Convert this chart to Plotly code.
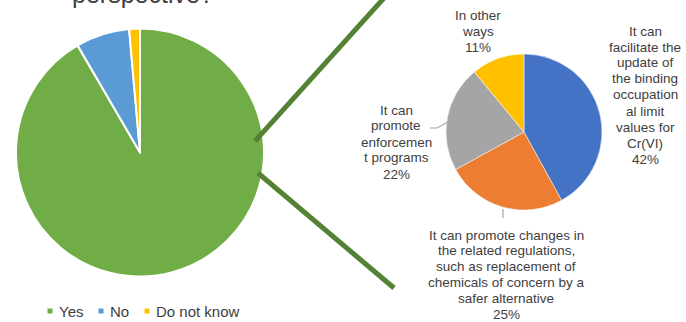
import plotly.graph_objects as go

W, H = 686, 322

# Main question: share of answers
main_labels = ["Yes", "No", "Do not know"]
main_values = [91.6, 7.0, 1.4]
main_colors = ["#70AD47", "#5B9BD5", "#FFC000"]

# Breakdown of the "Yes" answers
sub_labels = [
    ["It can", "facilitate the", "update of", "the binding", "occupation",
     "al limit", "values for", "Cr(VI)"],
    ["It can promote changes in", "the related regulations,",
     "such as replacement of", "chemicals of concern by a", "safer alternative"],
    ["It can", "promote", "enforcemen", "t programs"],
    ["In other", "ways"],
]
sub_values = [42, 25, 22, 11]
sub_colors = ["#4472C4", "#ED7D31", "#A5A5A5", "#FFC000"]

TEXT = "#404040"
FONT = "Liberation Sans, Arial"


def px(x):
    return x / W


def py(y):
    return 1 - y / H


fig = go.Figure()

fig.add_trace(go.Pie(
    labels=main_labels, values=main_values, sort=False, direction="clockwise",
    rotation=0, marker=dict(colors=main_colors, line=dict(color="white", width=2)),
    textinfo="none", hoverinfo="label+percent", showlegend=False,
    domain=dict(x=[px(16), px(264)], y=[py(277), py(28)]),
))

fig.add_trace(go.Pie(
    labels=[" ".join(l) for l in sub_labels], values=sub_values, sort=False,
    direction="clockwise", rotation=0,
    marker=dict(colors=sub_colors, line=dict(color="white", width=0.5)),
    textinfo="none", hoverinfo="percent", showlegend=False,
    domain=dict(x=[px(446), px(602)], y=[py(210), py(54)]),
))

annotations = []
shapes = []

# Heading above the first pie, running off the top edge
annotations.append(dict(
    text="perspective?", x=px(70), y=py(-6.5), xref="paper", yref="paper",
    xanchor="left", yanchor="middle", showarrow=False,
    font=dict(family=FONT, size=25, color=TEXT),
))

# Slice labels of the breakdown pie: (centre x, first line y, line gap) per label
label_pos = [(645, 31, 16.0), (506, 235, 15.8), (396, 110, 16.0), (478, 15, 16.0)]
for lines, val, (lx, ly, gap) in zip(sub_labels, sub_values, label_pos):
    for i, line in enumerate(lines + [f"{val}%"]):
        annotations.append(dict(
            text=line, x=px(lx), y=py(ly + i * gap), xref="paper", yref="paper",
            xanchor="center", yanchor="middle", align="center", showarrow=False,
            font=dict(family=FONT, size=13.5, color=TEXT),
        ))

# Leader lines for two of the labels
shapes.append(dict(type="path", xref="paper", yref="paper",
                   path=f"M {px(430)},{py(128)} L {px(437)},{py(128)} L {px(450)},{py(121)}",
                   line=dict(color="#A6A6A6", width=1.2)))
shapes.append(dict(type="line", xref="paper", yref="paper",
                   x0=px(503), y0=py(218), x1=px(503), y1=py(209),
                   line=dict(color="#A6A6A6", width=1.2)))

# Connector lines from the "Yes" slice to the breakdown pie
shapes.append(dict(type="line", xref="paper", yref="paper",
                   x0=px(255), y0=py(141), x1=px(384), y1=py(-2),
                   line=dict(color="#548235", width=5)))
shapes.append(dict(type="line", xref="paper", yref="paper",
                   x0=px(258), y0=py(173), x1=px(394), y1=py(288),
                   line=dict(color="#548235", width=5)))

# Legend for the main pie
legend_x = [50, 101, 147]
for lab, col, lx in zip(main_labels, main_colors, legend_x):
    shapes.append(dict(type="rect", xref="paper", yref="paper",
                       x0=px(lx - 2.5), x1=px(lx + 2.5), y0=py(313.5), y1=py(308.5),
                       fillcolor=col, line=dict(width=0)))
    annotations.append(dict(
        text=lab, x=px(lx + 7), y=py(311), xref="paper", yref="paper",
        xanchor="left", yanchor="middle", showarrow=False,
        font=dict(family=FONT, size=15, color=TEXT),
    ))

fig.update_layout(
    width=W, height=H, margin=dict(l=0, r=0, t=0, b=0),
    paper_bgcolor="white", plot_bgcolor="white",
    annotations=annotations, shapes=shapes, showlegend=False,
)

fig.write_html("out.html")
